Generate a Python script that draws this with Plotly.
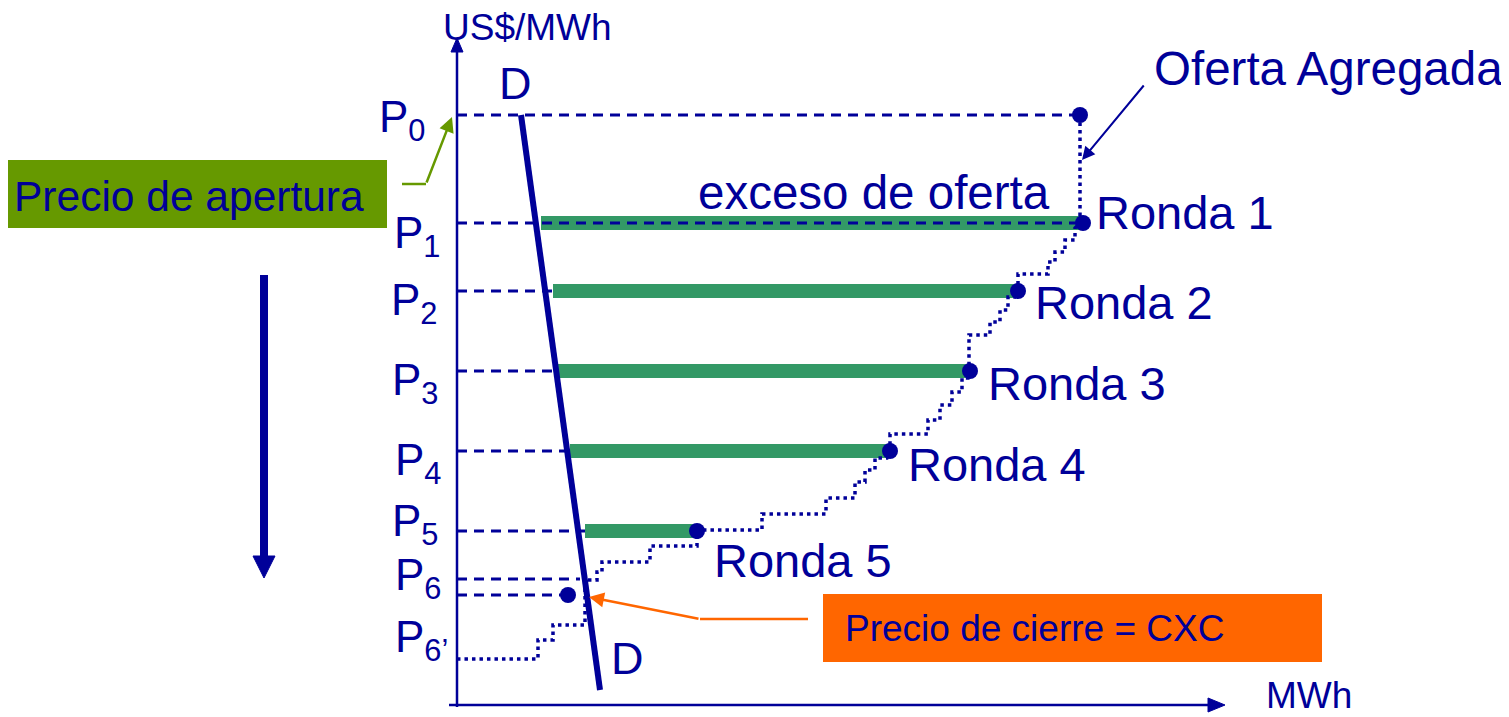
import plotly.graph_objects as go

# ---------------- data (quantity q, price p; origin of the axes = 0,0) ----------------
price_labels = ["P<sub>0</sub>", "P<sub>1</sub>", "P<sub>2</sub>", "P<sub>3</sub>",
                "P<sub>4</sub>", "P<sub>5</sub>", "P<sub>6</sub>", "P<sub>6’</sub>"]
price_values = [590, 482, 414, 334, 254, 174, 110, 46]

round_names = ["Ronda 1", "Ronda 2", "Ronda 3", "Ronda 4", "Ronda 5"]
round_prices = [482, 414, 334, 254, 174]
round_bar_start = [84, 96, 100, 113, 128]
round_bar_end = [626, 561, 513, 433, 240]

guide_prices = [590, 482, 414, 334, 254, 174, 126, 110]
guide_ends = [623, 626, 96, 100, 113, 128, 123, 111]

point_q = [623, 626, 561, 513, 433, 240, 111]
point_p = [590, 482, 414, 334, 254, 174, 110]

demand_q = [64, 143]
demand_p = [590, 15]

supply_q = [623, 623, 618, 618, 608, 608, 598, 598, 591, 591, 561, 561,
            558, 551, 551, 543, 543, 533, 533, 512, 512,
            511, 505, 505, 495, 495, 483, 483, 471, 471, 433, 433,
            430, 418, 418, 408, 408, 398, 398, 369, 369, 305, 305, 240,
            240, 193, 193, 145, 145, 140, 140, 128, 128, 96, 96, 81, 81, 0]
supply_p = [590, 482, 477, 465, 465, 453, 453, 443, 443, 431, 431, 414,
            408, 408, 395, 395, 383, 383, 370, 370, 334,
            327, 327, 313, 313, 300, 300, 285, 285, 271, 271, 254,
            247, 247, 235, 235, 223, 223, 207, 207, 191, 191, 175, 175,
            159, 159, 143, 143, 133, 133, 125, 125, 80, 80, 65, 65, 46, 46]

x_axis_end = 768
y_axis_end = 667

# ---------------- style ----------------
NAVY = "#000099"
BAR_GREEN = "#339966"
BOX_GREEN = "#669900"
ORANGE = "#FF6600"
FONT = "Liberation Sans, Arial, sans-serif"
PAGE_OFF = 8              # default page margin of the html body
W, H = 1509 - PAGE_OFF, 717 - PAGE_OFF
OX, OY = 457, 705  # screen pixel position of origin


def qx(px):
    return px - OX


def py(pyv):
    return OY - pyv


fig = go.Figure()

# green excess-supply bars
for p, q0, q1 in zip(round_prices, round_bar_start, round_bar_end):
    fig.add_trace(go.Scatter(x=[q0, q1], y=[p, p], mode="lines",
                             line=dict(color=BAR_GREEN, width=14), hoverinfo="skip"))

# dashed price guides
for p, q1 in zip(guide_prices, guide_ends):
    fig.add_trace(go.Scatter(x=[0, q1], y=[p, p], mode="lines",
                             line=dict(color=NAVY, width=2.8, dash="10px,7px"), hoverinfo="skip"))

# aggregated supply staircase
fig.add_trace(go.Scatter(x=supply_q, y=supply_p, mode="lines",
                         line=dict(color=NAVY, width=3.5, dash="3.5px,4px"), hoverinfo="skip"))

# demand line
fig.add_trace(go.Scatter(x=demand_q, y=demand_p, mode="lines",
                         line=dict(color=NAVY, width=6), hoverinfo="skip"))

# points
fig.add_trace(go.Scatter(x=point_q, y=point_p, mode="markers",
                         marker=dict(color=NAVY, size=16), hoverinfo="skip"))

shapes = []
# axes
shapes.append(dict(type="line", xref="x", yref="y", x0=0, y0=-2, x1=0, y1=y_axis_end - 12,
                   line=dict(color=NAVY, width=2.5)))
shapes.append(dict(type="path", xref="x", yref="y",
                   path=f"M -6 {y_axis_end - 14} L 6 {y_axis_end - 14} L 0 {y_axis_end} Z",
                   fillcolor=NAVY, line=dict(color=NAVY, width=1)))
shapes.append(dict(type="line", xref="x", yref="y", x0=-8, y0=0, x1=x_axis_end - 14, y1=0,
                   line=dict(color=NAVY, width=2.5)))
shapes.append(dict(type="path", xref="x", yref="y",
                   path=f"M {x_axis_end - 17} 7 L {x_axis_end - 17} -7 L {x_axis_end} 0 Z",
                   fillcolor=NAVY, line=dict(color=NAVY, width=1)))

# big downward arrow on the left
shapes.append(dict(type="line", xref="x", yref="y", x0=qx(264), y0=py(275), x1=qx(264), y1=py(558),
                   line=dict(color=NAVY, width=8)))
shapes.append(dict(type="path", xref="x", yref="y",
                   path=f"M {qx(253)} {py(556)} L {qx(275)} {py(556)} L {qx(264)} {py(578)} Z",
                   fillcolor=NAVY, line=dict(color=NAVY, width=1)))

# boxes
shapes.append(dict(type="rect", xref="x", yref="y", x0=qx(0), y0=py(160), x1=qx(387), y1=py(228),
                   fillcolor=BOX_GREEN, line=dict(width=0)))
shapes.append(dict(type="rect", xref="x", yref="y", x0=qx(823), y0=py(594), x1=qx(1322), y1=py(662),
                   fillcolor=ORANGE, line=dict(width=0)))

# connector segments
shapes.append(dict(type="line", xref="x", yref="y", x0=qx(402), y0=py(184), x1=qx(426), y1=py(184),
                   line=dict(color=BOX_GREEN, width=2.5)))
shapes.append(dict(type="line", xref="x", yref="y", x0=qx(808), y0=py(619), x1=qx(700), y1=py(619),
                   line=dict(color=ORANGE, width=2.5)))

annotations = []


def txt(text, left, cy, size, color=NAVY):
    annotations.append(dict(text=text, x=qx(left), y=py(cy), xref="x", yref="y",
                            xanchor="left", yanchor="middle", showarrow=False,
                            font=dict(family=FONT, size=size, color=color)))


txt("US$/MWh", 441, 27, 37)
txt("D", 497, 83, 45)
txt("D", 609, 658, 45)
txt("MWh", 1264, 695, 37)
txt("Oferta Agregada", 1152, 68, 47.5)
txt("exceso de oferta", 696, 192, 47.5)
txt("Precio de apertura", 12, 196, 42.5)
txt("Precio de cierre = CXC", 843, 628, 37)

ronda_pos = [(1094, 212), (1033, 302), (986, 383), (906, 464), (712, 560)]
for name, (lx, cy) in zip(round_names, ronda_pos):
    txt(name, lx, cy, 47)

plabel_pos = [(377, 120), (392, 236), (389, 303), (390, 383), (393, 463), (390, 524), (393, 578), (393, 640)]
for lab, (lx, cy) in zip(price_labels, plabel_pos):
    txt(lab, lx, cy, 44)

# arrows
annotations.append(dict(x=qx(1082), y=py(160), xref="x", yref="y", ax=63, ay=-76,
                        text="", showarrow=True, arrowhead=2, arrowsize=1.3, arrowwidth=2,
                        arrowcolor=NAVY))
annotations.append(dict(x=qx(452), y=py(117), xref="x", yref="y", ax=-26, ay=67,
                        text="", showarrow=True, arrowhead=2, arrowsize=1.2, arrowwidth=2.5,
                        arrowcolor=BOX_GREEN))
annotations.append(dict(x=qx(589), y=py(597), xref="x", yref="y", ax=111, ay=22,
                        text="", showarrow=True, arrowhead=2, arrowsize=1.2, arrowwidth=2.5,
                        arrowcolor=ORANGE))

fig.update_layout(
    width=W, height=H,
    margin=dict(l=0, r=0, t=0, b=0),
    paper_bgcolor="white", plot_bgcolor="white",
    showlegend=False,
    xaxis=dict(range=[qx(PAGE_OFF), qx(1509)], visible=False, fixedrange=True),
    yaxis=dict(range=[py(717), py(PAGE_OFF)], visible=False, fixedrange=True),
    shapes=shapes, annotations=annotations,
)

fig.write_html("out.html")
